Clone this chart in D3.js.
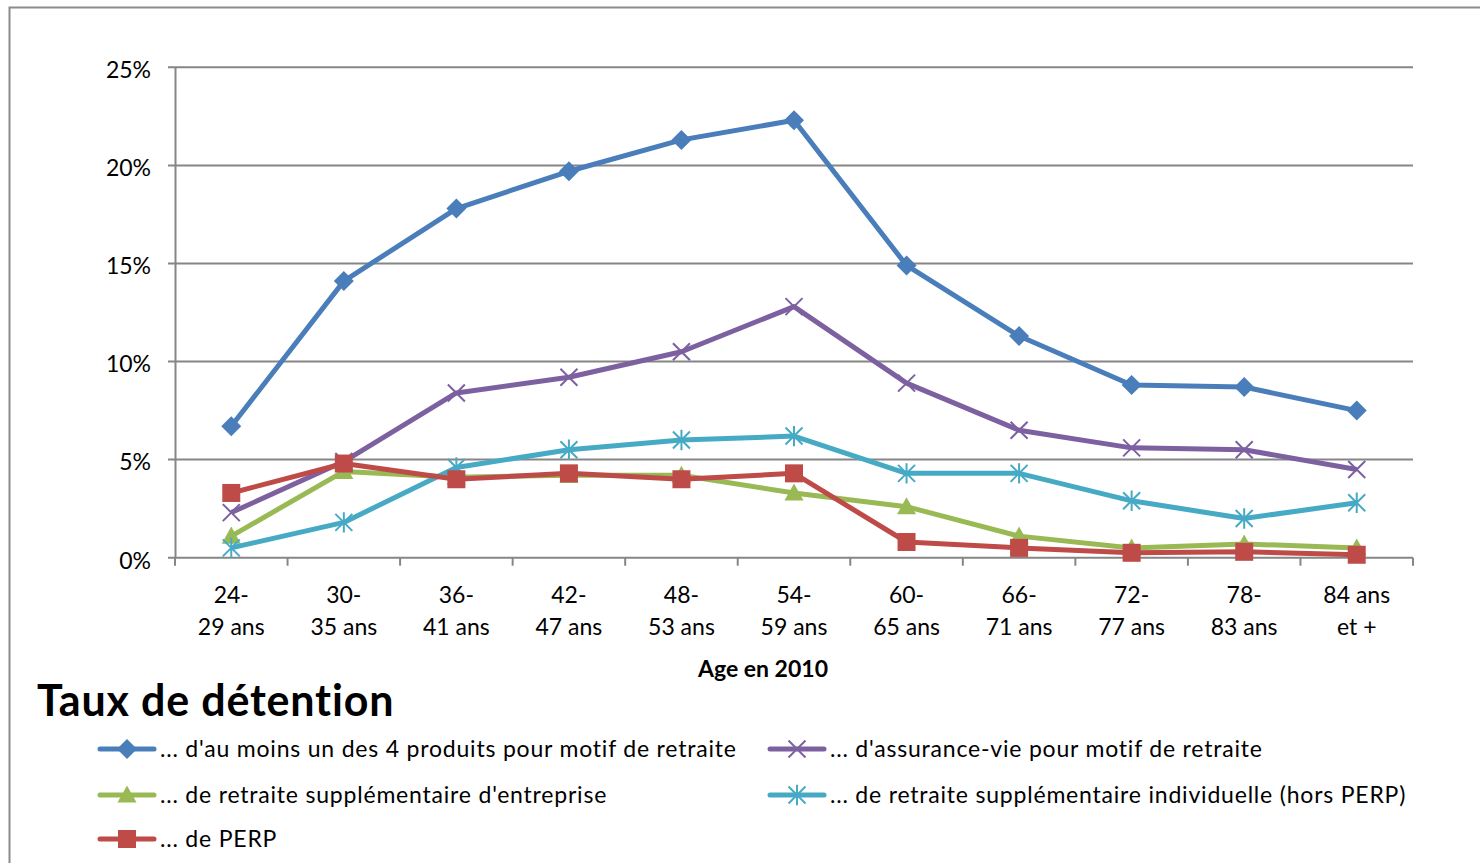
<!DOCTYPE html>
<html>
<head>
<meta charset="utf-8">
<script src="https://cdn.jsdelivr.net/npm/d3@7"></script>
<style>
  body { margin: 0; background: #fff; }
  svg { display: block; font-family: Lato, "Open Sans", sans-serif; }
</style>
</head>
<body>
<div id="chart"></div>
<script>
// data
var categories = ["24-|29 ans", "30-|35 ans", "36-|41 ans", "42-|47 ans", "48-|53 ans", "54-|59 ans",
                  "60-|65 ans", "66-|71 ans", "72-|77 ans", "78-|83 ans", "84 ans|et +"];
var auMoinsUn  = [6.7, 14.1, 17.8, 19.7, 21.3, 22.3, 14.9, 11.3, 8.8, 8.7, 7.5];
var assurVie   = [2.3, 4.9, 8.4, 9.2, 10.5, 12.8, 8.9, 6.5, 5.6, 5.5, 4.5];
var entreprise = [1.1, 4.4, 4.1, 4.2, 4.2, 3.3, 2.6, 1.1, 0.5, 0.7, 0.5];
var individuel = [0.5, 1.8, 4.6, 5.5, 6.0, 6.2, 4.3, 4.3, 2.9, 2.0, 2.8];
var perp       = [3.3, 4.8, 4.0, 4.3, 4.0, 4.3, 0.8, 0.5, 0.25, 0.3, 0.15];
var yTicks = [0, 5, 10, 15, 20, 25];

var series = [
  {name: "... d'au moins un des 4 produits pour motif de retraite", values: auMoinsUn, color: "#4a7ebb", marker: "diamond"},
  {name: "... d'assurance-vie pour motif de retraite", values: assurVie, color: "#7d60a0", marker: "x"},
  {name: "... de retraite supplémentaire d'entreprise", values: entreprise, color: "#98b954", marker: "triangle"},
  {name: "... de retraite supplémentaire individuelle (hors PERP)", values: individuel, color: "#46aac5", marker: "star"},
  {name: "... de PERP", values: perp, color: "#be4b48", marker: "square"}
];

var W = 1480, H = 863;
var fs = 23;
var svg = d3.select("#chart").append("svg").attr("width", W).attr("height", H);

// frame
svg.append("path")
  .attr("d", "M9.5," + H + "V7.5H" + W)
  .attr("fill", "none").attr("stroke", "#8c8c8c").attr("stroke-width", 2);

var x = d3.scaleBand().domain(categories).range([175, 1413]).paddingInner(0).paddingOuter(0);
var y = d3.scaleLinear().domain([0, 25]).range([557.7, 67.3]);
var axisColor = "#868686";

// grid
svg.append("g").selectAll("line").data(yTicks).enter().append("line")
  .attr("x1", 168).attr("x2", 1413)
  .attr("y1", d => y(d)).attr("y2", d => y(d))
  .attr("stroke", axisColor).attr("stroke-width", 2);

// y axis
var yAxis = svg.append("g").attr("transform", "translate(175,0)")
  .call(d3.axisLeft(y).tickValues(yTicks).tickSize(0).tickPadding(24).tickFormat(d => d + "%"));
yAxis.select(".domain").attr("stroke", axisColor).attr("stroke-width", 2);
yAxis.selectAll("text").attr("font-size", fs).attr("fill", "#000")
  .attr("font-family", "Lato").attr("dy", "0.45em");

// x axis ticks at band edges
var edges = categories.map(c => x(c)).concat([x.range()[1]]);
svg.append("g").selectAll("line").data(edges).enter().append("line")
  .attr("x1", d => d).attr("x2", d => d)
  .attr("y1", y(0)).attr("y2", y(0) + 8)
  .attr("stroke", axisColor).attr("stroke-width", 2);

var lbl = svg.append("g").selectAll("text").data(categories).enter().append("text")
  .attr("text-anchor", "middle").attr("font-size", fs).attr("fill", "#000");
lbl.each(function(d) {
  var parts = d.split("|");
  var cx = x(d) + x.bandwidth() / 2;
  var t = d3.select(this);
  t.append("tspan").attr("x", cx).attr("y", 603).text(parts[0]);
  t.append("tspan").attr("x", cx).attr("y", 635).text(parts[1]);
});

svg.append("text").attr("x", 763).attr("y", 677).attr("text-anchor", "middle")
  .attr("font-size", fs).attr("font-weight", "bold").text("Age en 2010");

// markers
function markerPath(type, s) {
  var p = d3.path();
  if (type === "diamond") {
    p.moveTo(0, -s); p.lineTo(s, 0); p.lineTo(0, s); p.lineTo(-s, 0); p.closePath();
  } else if (type === "square") {
    p.rect(-s, -s, 2 * s, 2 * s);
  } else if (type === "triangle") {
    p.moveTo(0, -s); p.lineTo(s, s * 0.8); p.lineTo(-s, s * 0.8); p.closePath();
  } else if (type === "x") {
    p.moveTo(-s, -s); p.lineTo(s, s); p.moveTo(s, -s); p.lineTo(-s, s);
  } else if (type === "star") {
    p.moveTo(-s, -s); p.lineTo(s, s); p.moveTo(s, -s); p.lineTo(-s, s);
    p.moveTo(0, -s * 1.2); p.lineTo(0, s * 1.2);
  }
  return p.toString();
}
var markerSize = {diamond: 10, square: 9, triangle: 9.5, x: 8.5, star: 8.5};

function drawMarker(g, s, cx, cy) {
  var stroked = (s.marker === "x" || s.marker === "star");
  g.append("path")
    .attr("d", markerPath(s.marker, markerSize[s.marker]))
    .attr("transform", "translate(" + cx + "," + cy + ")")
    .attr("fill", stroked ? "none" : s.color)
    .attr("stroke", s.color)
    .attr("stroke-width", stroked ? 2 : 0);
}

var line = d3.line().x((d, i) => x(categories[i]) + x.bandwidth() / 2).y(d => y(d));

series.forEach(function(s) {
  var g = svg.append("g");
  g.append("path").datum(s.values)
    .attr("d", line).attr("fill", "none")
    .attr("stroke", s.color).attr("stroke-width", 5).attr("stroke-linejoin", "round");
  s.values.forEach(function(v, i) {
    drawMarker(g, s, x(categories[i]) + x.bandwidth() / 2, y(v));
  });
});

// title + legend
svg.append("text").attr("x", 37).attr("y", 716)
  .attr("font-size", 43).attr("font-weight", "bold").attr("letter-spacing", 0.8)
  .text("Taux de détention");

var legendPos = [[100, 749], [770, 749], [100, 795], [770, 795], [100, 839]];
series.forEach(function(s, i) {
  var lx = legendPos[i][0], ly = legendPos[i][1];
  var g = svg.append("g");
  g.append("line").attr("x1", lx).attr("x2", lx + 54).attr("y1", ly).attr("y2", ly)
    .attr("stroke", s.color).attr("stroke-width", 5).attr("stroke-linecap", "round");
  drawMarker(g, s, lx + 27, ly);
  g.append("text").attr("x", lx + 60).attr("y", ly + 8)
    .attr("font-size", fs).attr("fill", "#000").attr("letter-spacing", 0.8).text(s.name);
});
</script>
</body>
</html>
